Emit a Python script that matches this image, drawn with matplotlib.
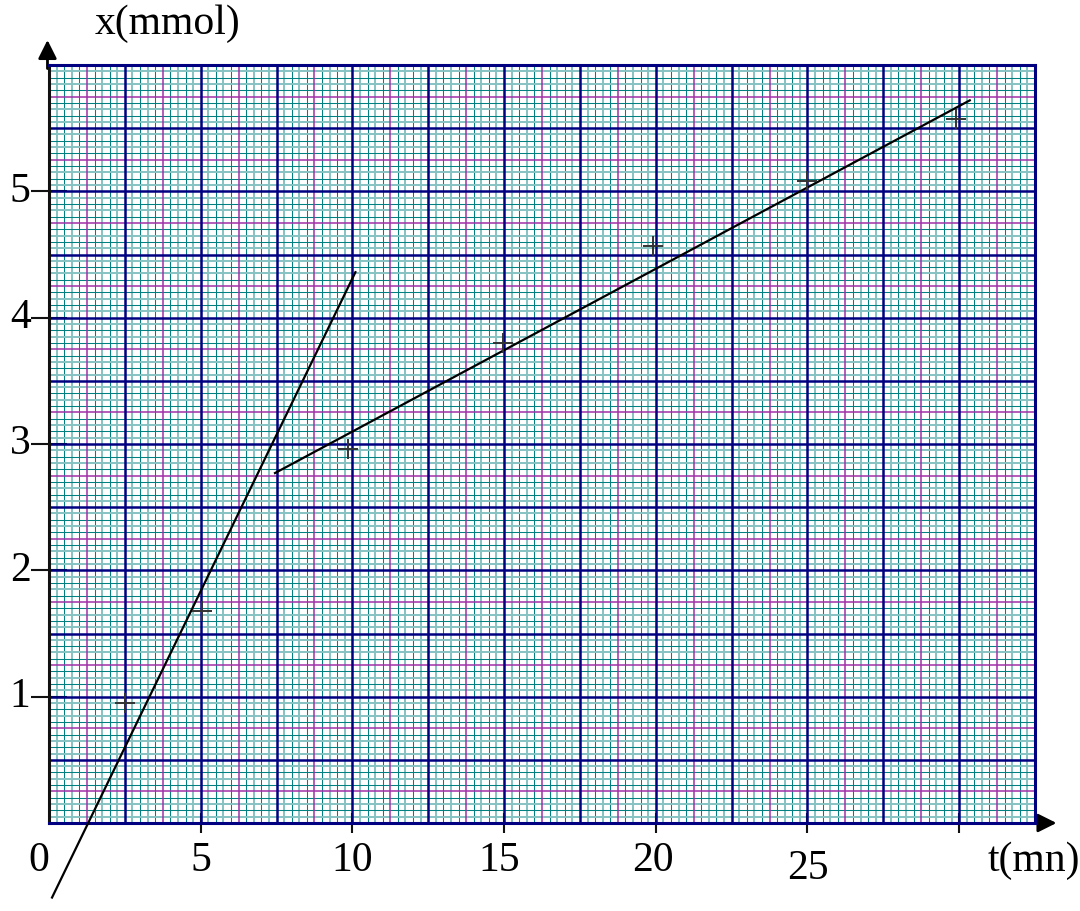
import numpy as np
import matplotlib
matplotlib.use("Agg")
import matplotlib.pyplot as plt

plt.rcParams["font.family"] = ["Liberation Serif", "DejaVu Serif"]

# measured points x(t)
t_pts = [2.5, 5.05, 9.85, 14.95, 19.9, 25.0, 29.9]
x_pts = [0.95, 1.68, 2.96, 3.80, 4.57, 5.08, 5.57]

# tangent at origin and tangent near t = 10
tan1_t = [0.1, 10.1]
tan1_x = [-0.59, 4.36]
tan2_t = [7.45, 30.35]
tan2_x = [2.77, 5.72]

x_tick_labels = ["0", "5", "10", "15", "20", "25"]
x_tick_pos = [-0.35, 5, 10, 14.85, 19.9, 25]
y_tick_labels = ["1", "2", "3", "4", "5"]
y_tick_pos = [1, 2, 3, 4, 5]

T_MAX, X_MAX = 32.5, 6.0

fig = plt.figure(figsize=(10.8, 9.11), dpi=100)
ax = fig.add_axes([49 / 1080, 88 / 911, 986 / 1080, 758 / 911])
ax.set_xlim(0, T_MAX)
ax.set_ylim(0, X_MAX)

# graph paper
navy = "#000080"
magenta = "#a030a8"
teal_dark = "#008080"
teal_light = "#86c2c2"


def paper_line(draw, pos, k):
    if k == 0:
        draw(pos, color=navy, lw=1.8, zorder=3)
    elif k == 5:
        draw(pos, color=magenta, lw=1.1, zorder=2)
    elif k % 2 == 1:
        draw(pos, color=teal_light, lw=1.4, zorder=1)
    else:
        draw(pos, color=teal_dark, lw=0.75, zorder=1)


for i, t in enumerate(np.arange(0, T_MAX + 1e-6, 0.25)):
    paper_line(ax.axvline, t, i % 10)
for i, x in enumerate(np.arange(0, X_MAX + 1e-6, 0.05)):
    paper_line(ax.axhline, x, i % 10)

for side in ["top", "right", "bottom"]:
    ax.spines[side].set_color(navy)
    ax.spines[side].set_linewidth(2.2)
ax.spines["left"].set_color("#111111")
ax.spines["left"].set_linewidth(2.2)
for s in ax.spines.values():
    s.set_zorder(5)

ax.set_xticks([5, 10, 15, 20, 25, 30])
ax.set_yticks(y_tick_pos)
ax.set_xticklabels([])
ax.set_yticklabels([])
ax.tick_params(axis="x", direction="inout", length=14, width=1.5, color="#111111")
ax.tick_params(axis="y", direction="inout", length=26, width=1.5, color="#111111")

# axis arrows
ax.annotate("", xy=(-0.05, 6.22), xytext=(-0.05, 5.95), xycoords="data",
            arrowprops=dict(arrowstyle="-|>", color="black", lw=2, mutation_scale=28),
            annotation_clip=False)
ax.annotate("", xy=(33.3, 0), xytext=(32.4, 0), xycoords="data",
            arrowprops=dict(arrowstyle="-|>", color="black", lw=2, mutation_scale=28),
            annotation_clip=False)

# data
ax.plot(tan1_t, tan1_x, color="black", lw=1.6, zorder=6, clip_on=False)
ax.plot(tan2_t, tan2_x, color="black", lw=1.6, zorder=6)
ax.plot(t_pts, x_pts, ls="none", marker="+", ms=14, mew=1.4, color="#333333", zorder=7)

# labels
fs = 30
for lab, pos in zip(x_tick_labels, x_tick_pos):
    dy = -0.36 if lab == "25" else -0.3
    ax.text(pos, dy, lab, fontsize=fs, ha="center", va="center", clip_on=False)
for lab, pos in zip(y_tick_labels, y_tick_pos):
    ax.text(-0.95, pos, lab, fontsize=fs, ha="center", va="center", clip_on=False)
ax.text(32.45, -0.3, "t(mn)", fontsize=fs, ha="center", va="center", clip_on=False)
ax.text(3.9, 6.33, "x(mmol)", fontsize=fs, ha="center", va="center", clip_on=False)

fig.savefig("out.png", dpi=100, facecolor="white")
